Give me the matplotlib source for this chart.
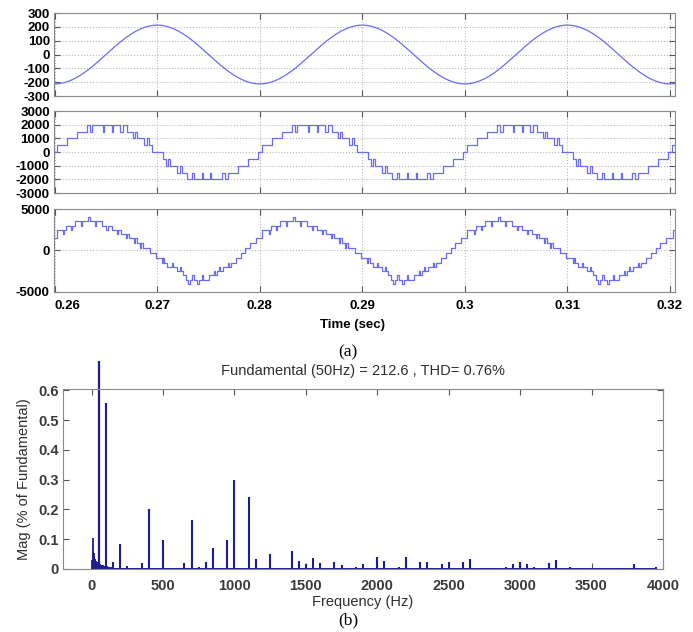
"""Inverter waveforms (a) and FFT spectrum of the output (b)."""
import numpy as np
import matplotlib
matplotlib.use('Agg')
import matplotlib.pyplot as plt

plt.rcParams['font.family'] = ['Liberation Sans', 'DejaVu Sans']
plt.rcParams['axes.unicode_minus'] = False

T0 = 0.26          # start of the time window (s)
PERIOD_MS = 20.0   # 50 Hz fundamental
XLIM = (0.25993, 0.32049)
TIME_TICKS = [0.26, 0.27, 0.28, 0.29, 0.30, 0.31, 0.32]
TIME_TICKLABELS = ['0.26', '0.27', '0.28', '0.29', '0.3', '0.31', '0.32']

# (a) panel 1: reference sine, one period sampled every 0.5 ms from T0
REF_STEP_MS = 0.5
REF_VALUES = [-213, -210, -202, -189, -172, -150, -125, -97, -66, -33,
              0, 33, 66, 97, 125, 150, 172, 189, 202, 210,
              213, 210, 202, 189, 172, 150, 125, 97, 66, 33,
              0, -33, -66, -97, -125, -150, -172, -189, -202, -210]

# (a) panel 2: five-level staircase, switching instants (ms from T0) and level after each
STAIR_EDGES_MS = [0.0, 0.19, 1.17, 2.14, 3.12, 3.44, 3.67, 4.71, 4.81, 5.58,
                  5.68, 6.40, 6.62, 7.08, 7.60, 7.82, 8.05, 8.73, 8.96, 9.16,
                  9.45, 10.55, 10.84, 11.04, 11.27, 11.95, 12.18, 12.40, 12.92, 13.38,
                  13.60, 14.32, 14.42, 15.19, 15.29, 16.33, 16.56, 16.88, 17.86, 18.83,
                  19.81]
STAIR_LEVELS = [0, 500, 1000, 1500, 2000, 1500, 2000, 1500, 2000, 1500,
                2000, 1500, 2000, 1500, 1000, 1500, 1000, 500, 1000, 500,
                0, -500, -1000, -500, -1000, -1500, -1000, -1500, -2000, -1500,
                -2000, -1500, -2000, -1500, -2000, -1500, -2000, -1500, -1000, -500,
                0]

# (a) panel 3: output voltage staircase, switching instants (ms from T0) and levels
OUT_EDGES_MS = [0.0, 0.25, 0.85, 0.95, 1.1, 1.55, 1.65, 2.0, 2.55, 2.65,
                3.2, 3.4, 3.95, 4.05, 4.6, 5.05, 5.15, 5.6, 6.1, 6.2,
                6.5, 6.95, 7.05, 7.2, 7.7, 7.8, 8.0, 8.3, 8.4, 8.6,
                9.25, 9.9, 10.5, 10.6, 10.7, 11.0, 11.4, 11.5, 11.9, 12.2,
                12.3, 12.5, 12.8, 13.0, 13.15, 13.4, 13.55, 13.9, 14.05, 14.4,
                14.5, 15.0, 15.5, 15.6, 15.8, 16.0, 16.1, 16.4, 16.9, 17.0,
                17.2, 17.7, 18.2, 18.6, 19.0, 19.6]
OUT_LEVELS = [1500, 2500, 2000, 2500, 3000, 2500, 3000, 3500, 3000, 3500,
              4000, 3500, 3000, 3500, 3000, 2500, 3000, 2500, 2000, 2500,
              2000, 1500, 2000, 1500, 900, 1500, 900, 300, 900, 300,
              -300, -900, -1500, -900, -1500, -2000, -1500, -2000, -2500, -2000,
              -2500, -3000, -3500, -4000, -3500, -3000, -3500, -4000, -3500, -3000,
              -3500, -3000, -2500, -3000, -2500, -2000, -2500, -2000, -1500, -2000,
              -1500, -900, -300, 300, 900, 1500]

# (b) spectrum: fundamental bar (shown cut off), harmonics and low-frequency cluster
FUND_FREQ = 50
FUND_SHOWN = 0.70
HARM_FREQS = [100, 150, 200, 250, 350, 400, 450, 500, 550, 600,
              650, 700, 750, 800, 850, 900, 950, 1000, 1100, 1150,
              1250, 1300, 1400, 1450, 1500, 1550, 1600, 1700, 1750, 1850,
              1900, 2000, 2050, 2150, 2200, 2300, 2350, 2450, 2500, 2600,
              2650, 2750, 2800, 2900, 2950, 3000, 3050, 3100, 3200, 3250,
              3350, 3400, 3500, 3700, 3800, 3950]
HARM_MAGS = [0.558, 0.022, 0.083, 0.010, 0.020, 0.202, 0.005, 0.099, 0.003, 0.003,
             0.020, 0.164, 0.007, 0.025, 0.072, 0.004, 0.099, 0.299, 0.242, 0.034,
             0.052, 0.004, 0.060, 0.026, 0.018, 0.038, 0.020, 0.022, 0.012, 0.008,
             0.016, 0.039, 0.028, 0.008, 0.039, 0.022, 0.022, 0.017, 0.022, 0.023,
             0.032, 0.005, 0.004, 0.006, 0.017, 0.022, 0.017, 0.006, 0.021, 0.029,
             0.007, 0.004, 0.004, 0.003, 0.017, 0.006]
LOW_FREQS = [4, 8, 12, 15, 18, 22, 25, 30, 35, 40, 45, 55, 60, 65, 70, 75, 80, 85,
             90, 95, 105, 110, 120, 130, 140, 160, 170, 180, 190, 210, 220, 230, 260,
             280, 300]
LOW_MAGS = [0.030, 0.105, 0.060, 0.055, 0.045, 0.035, 0.030, 0.028, 0.025, 0.022,
            0.020, 0.018, 0.016, 0.015, 0.014, 0.013, 0.012, 0.011, 0.010, 0.010,
            0.009, 0.008, 0.007, 0.006, 0.006, 0.005, 0.005, 0.004, 0.004, 0.004,
            0.003, 0.003, 0.003, 0.002, 0.002]

WAVE_COLOR = '#6c6cf0'
BAR_COLOR = '#1d1d8e'
FRAME_COLOR = '#8a8a8a'
GRID_KW = dict(color='#b8b8b8', ls=':', lw=0.8)


def periodic(edges_ms, levels):
    t = np.concatenate([T0 + (np.asarray(edges_ms) + PERIOD_MS * k) / 1000.0
                        for k in range(-1, 4)])
    v = np.tile(levels, 5)
    return t, v


def style_wave_axis(ax, yticks):
    for s in ax.spines.values():
        s.set_color(FRAME_COLOR)
    ax.set_xlim(*XLIM)
    ax.set_ylim(yticks[0], yticks[-1])
    ax.set_yticks(yticks)
    ax.set_yticklabels([str(v) for v in yticks], fontweight='bold', fontsize=9.5)
    ax.set_xticks(TIME_TICKS)
    ax.tick_params(direction='in', top=True, right=True, length=4,
                   color='#555555', pad=3)
    ax.grid(True, **GRID_KW)
    ax.set_axisbelow(True)


fig = plt.figure(figsize=(6.93, 6.32), dpi=100)

# panel 1
ax1 = fig.add_axes([0.0779, 0.8481, 0.8961, 0.1313])
n_ref = len(REF_VALUES)
t_ref = np.concatenate([T0 + (np.arange(n_ref) * REF_STEP_MS + PERIOD_MS * k) / 1000.0
                        for k in range(0, 4)])
ax1.plot(t_ref, np.tile(REF_VALUES, 4), color=WAVE_COLOR, lw=0.9)
style_wave_axis(ax1, [-300, -200, -100, 0, 100, 200, 300])
ax1.set_xticklabels([])

# panel 2
ax2 = fig.add_axes([0.0779, 0.6946, 0.8961, 0.1297])
t2, v2 = periodic(STAIR_EDGES_MS, STAIR_LEVELS)
ax2.step(t2, v2, where='post', color=WAVE_COLOR, lw=0.9)
style_wave_axis(ax2, [-3000, -2000, -1000, 0, 1000, 2000, 3000])
ax2.set_xticklabels([])

# panel 3
ax3 = fig.add_axes([0.0779, 0.538, 0.8961, 0.1313])
t3, v3 = periodic(OUT_EDGES_MS, OUT_LEVELS)
ax3.step(t3, v3, where='post', color=WAVE_COLOR, lw=0.9)
style_wave_axis(ax3, [-5000, 0, 5000])
xlabs = ax3.set_xticklabels(TIME_TICKLABELS, fontweight='bold', fontsize=9.5)
xlabs[0].set_horizontalalignment('left')
ax3.tick_params(axis='x', pad=6)
ax3.set_xlabel('Time (sec)', fontweight='bold', fontsize=9.5, labelpad=4)
ax3.xaxis.set_label_coords(0.481, -0.33)

fig.text(0.502, 0.442, '(a)', family='Liberation Serif', fontsize=12.5,
         ha='center', va='center')

# spectrum
ax4 = fig.add_axes([0.0909, 0.0997, 0.8658, 0.2848])
for s in ax4.spines.values():
    s.set_color(FRAME_COLOR)
ax4.vlines(LOW_FREQS, 0, LOW_MAGS, color=BAR_COLOR, lw=1.3)
ax4.vlines(HARM_FREQS, 0, HARM_MAGS, color=BAR_COLOR, lw=1.5)
ax4.vlines([FUND_FREQ], 0, [FUND_SHOWN], color=BAR_COLOR, lw=1.6, clip_on=False)
ax4.plot([min(LOW_FREQS), max(HARM_FREQS)], [0, 0], color=BAR_COLOR, lw=1.4)
ax4.set_xlim(-200, 4000)
ax4.set_ylim(0, 0.605)
ax4.set_xticks(range(0, 4001, 500))
ax4.set_yticks([0, 0.1, 0.2, 0.3, 0.4, 0.5, 0.6])
ax4.set_yticklabels(['0', '0.1', '0.2', '0.3', '0.4', '0.5', '0.6'])
ax4.tick_params(direction='in', top=True, right=True, length=4, color='#555555',
                labelsize=10.5, labelcolor='#3a3a3a', pad=3)
for lab in ax4.get_xticklabels() + ax4.get_yticklabels():
    lab.set_fontweight('bold')
ax4.tick_params(axis='x', pad=7)
ax4.set_title('Fundamental (50Hz) = 212.6 , THD= 0.76%', fontsize=10.5,
              color='#2e2e2e', pad=10)
ax4.set_xlabel('Frequency (Hz)', fontsize=10.5, color='#2e2e2e', labelpad=2)
ax4.set_ylabel('Mag (% of Fundamental)', fontsize=10.5, color='#2e2e2e', labelpad=5)

fig.text(0.503, 0.019, '(b)', family='Liberation Serif', fontsize=12.5,
         ha='center', va='center')

fig.savefig('out.png', dpi=100)
